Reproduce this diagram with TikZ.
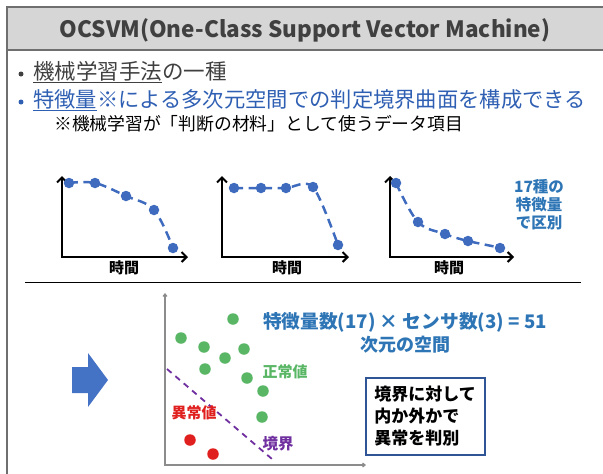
\documentclass[tikz,border=0pt]{standalone}
\usepackage{fontspec}
\setmainfont{Noto Sans CJK JP}
\usetikzlibrary{arrows.meta}
\definecolor{titlefill}{HTML}{D6D6D6}
\definecolor{framegray}{HTML}{6F6F6F}
\definecolor{titletext}{HTML}{404040}
\definecolor{bodygray}{HTML}{404040}
\definecolor{bulletblue}{HTML}{2F5FB3}
\definecolor{labelblue}{HTML}{2E75B6}
\definecolor{dotblue}{HTML}{3E6BBE}
\definecolor{dotgreen}{HTML}{58B664}
\definecolor{dotred}{HTML}{E0201E}
\definecolor{purp}{HTML}{7030A0}
\definecolor{boxblue}{HTML}{2F5597}
\definecolor{arrowblue}{HTML}{4472C4}
\definecolor{axisgray}{HTML}{8C8C8C}
\tikzset{
  fs/.style={font=\fontsize{#1}{#1}\selectfont},
  bfs/.style={font=\bfseries\fontsize{#1}{#1}\selectfont},
  chartaxis/.style={line width=2.4pt, black, {Straight Barb[length=5pt,width=10pt,line width=2pt]}-{Straight Barb[length=5pt,width=10pt,line width=2pt]}},
  trend/.style={dotblue, line width=2.5pt, dash pattern=on 9pt off 5.5pt},
  bdot/.style={circle, fill=dotblue, inner sep=0pt, minimum size=10.5pt},
  gdot/.style={circle, fill=dotgreen, inner sep=0pt, minimum size=11.5pt},
  rdot/.style={circle, fill=dotred, inner sep=0pt, minimum size=11.5pt},
  bulletdot/.style={circle, inner sep=0pt, minimum size=5pt},
  timelabel/.style={bfs=15, text=black, inner sep=0pt},
}
\begin{document}
\begin{tikzpicture}[x=1pt,y=-1pt]
\useasboundingbox (0,0) rectangle (603,474);
% frame and title bar
\fill[titlefill] (7,7) rectangle (603,50);
\draw[framegray, line width=1.6pt] (603,7) -- (7,7) -- (7,474);
\draw[framegray, line width=1.4pt] (7,50) -- (603,50);
\node[bfs=22.5, text=titletext] (title) at (305,30) {OCSVM(One-Class Support Vector Machine)};
% bullets
\node[bulletdot, fill=bodygray] (bu1) at (21,74) {};
\node[fs=21.5, text=bodygray, anchor=west, inner sep=0pt] (l1) at (33,72) {\underline{機械学習手法}の一種};
\node[bulletdot, fill=bulletblue] (bu2) at (21,102) {};
\node[fs=21.3, text=bulletblue, anchor=west, inner sep=0pt] (l2) at (33,100) {\underline{特徴量}※による多次元空間での判定境界曲面を構成できる};
\node[fs=17.8, text=black, anchor=west, inner sep=0pt] (l3) at (54,124) {※機械学習が「判断の材料」として使うデータ項目};
% chart 1
\coordinate (c1t) at (62,176);
\coordinate (c1o) at (62,257);
\coordinate (c1r) at (188,257);
\draw[chartaxis] (c1t) -- (c1o) -- (c1r);
\draw[trend] plot[smooth, tension=0.6] coordinates {(69,183) (95,183) (126,196) (154,210) (173,248)};
\node[bdot] (a1) at (69,183) {};
\node[bdot] (a2) at (95,183) {};
\node[bdot] (a3) at (126,196) {};
\node[bdot] (a4) at (154,210) {};
\node[bdot] (a5) at (173,248) {};
\node[timelabel] (t1) at (124,268) {時間};
% chart 2
\coordinate (c2t) at (222,176);
\coordinate (c2o) at (222,257);
\coordinate (c2r) at (349,257);
\draw[chartaxis] (c2t) -- (c2o) -- (c2r);
\draw[trend] plot[smooth, tension=0.5] coordinates {(234,188) (261,188) (286,188) (313,187) (338,245)};
\node[bdot] (b1) at (234,188) {};
\node[bdot] (b2) at (261,188) {};
\node[bdot] (b3) at (286,188) {};
\node[bdot] (b4) at (313,187) {};
\node[bdot] (b5) at (338,245) {};
\node[timelabel] (t2) at (287,268) {時間};
% chart 3
\coordinate (c3t) at (390,176);
\coordinate (c3o) at (390,257);
\coordinate (c3r) at (514,257);
\draw[chartaxis] (c3t) -- (c3o) -- (c3r);
\draw[trend] plot[smooth, tension=0.6] coordinates {(396,183) (418,222) (445,234) (468,241) (502,248)};
\node[bdot] (d1) at (396,183) {};
\node[bdot] (d2) at (418,222) {};
\node[bdot] (d3) at (445,234) {};
\node[bdot] (d4) at (468,241) {};
\node[bdot] (d5) at (500,248) {};
\node[timelabel] (t3) at (449,268) {時間};
\node[bfs=15.5, text=labelblue, align=center, inner sep=0pt] (kinds) at (539,205) {17種の\\[2.5pt]特徴量\\[2.5pt]で区別};
% separator
\coordinate (s1) at (25,282);
\coordinate (s2) at (581,282);
\draw[black, line width=1pt] (s1) -- (s2);
% block arrow
\fill[arrowblue] (72,367) -- (88,367) -- (88,353) -- (108,380) -- (88,407) -- (88,393) -- (72,393) -- cycle;
% scatter axes
\coordinate (st) at (165,293);
\coordinate (so) at (165,465);
\coordinate (sr) at (366,465);
\draw[axisgray, line width=1.2pt, {Straight Barb[length=2.5pt,width=4pt]}-{Straight Barb[length=2.5pt,width=4pt]}] (st) -- (so) -- (sr);
% boundary
\coordinate (bd1) at (167,369);
\coordinate (bd2) at (272,459);
\draw[purp, line width=1.8pt, dash pattern=on 6pt off 5pt] (bd1) -- (bd2);
% green points
\node[gdot] (g1) at (233,319) {};
\node[gdot] (g2) at (181,338) {};
\node[gdot] (g3) at (204,347) {};
\node[gdot] (g4) at (244,349) {};
\node[gdot] (g5) at (225,358) {};
\node[gdot] (g6) at (205,369) {};
\node[gdot] (g7) at (247,378) {};
\node[gdot] (g8) at (263,391) {};
\node[gdot] (g9) at (262,417) {};
% red points
\node[rdot] (r1) at (190,440) {};
\node[rdot] (r2) at (213,454) {};
% labels
\node[bfs=15, text=dotgreen, inner sep=0pt] (normal) at (285,372) {正常値};
\node[bfs=15, text=dotred, inner sep=0pt] (abnormal) at (194,413) {異常値};
\node[bfs=15.5, text=purp, inner sep=0pt] (bound) at (278,444) {境界};
\node[bfs=18.7, text=labelblue, inner sep=0pt] (dim1) at (405,322) {特徴量数(17) × センサ数(3) = 51};
\node[bfs=18, text=labelblue, inner sep=0pt] (dim2) at (405,345) {次元の空間};
% box
\node[draw=boxblue, line width=2pt, minimum width=119pt, minimum height=77pt, align=left, bfs=17, text=black, inner sep=0pt] (judge) at (425,416) {境界に対して\\[5pt]内か外かで\\[5pt]異常を判別};
\end{tikzpicture}
\end{document}
